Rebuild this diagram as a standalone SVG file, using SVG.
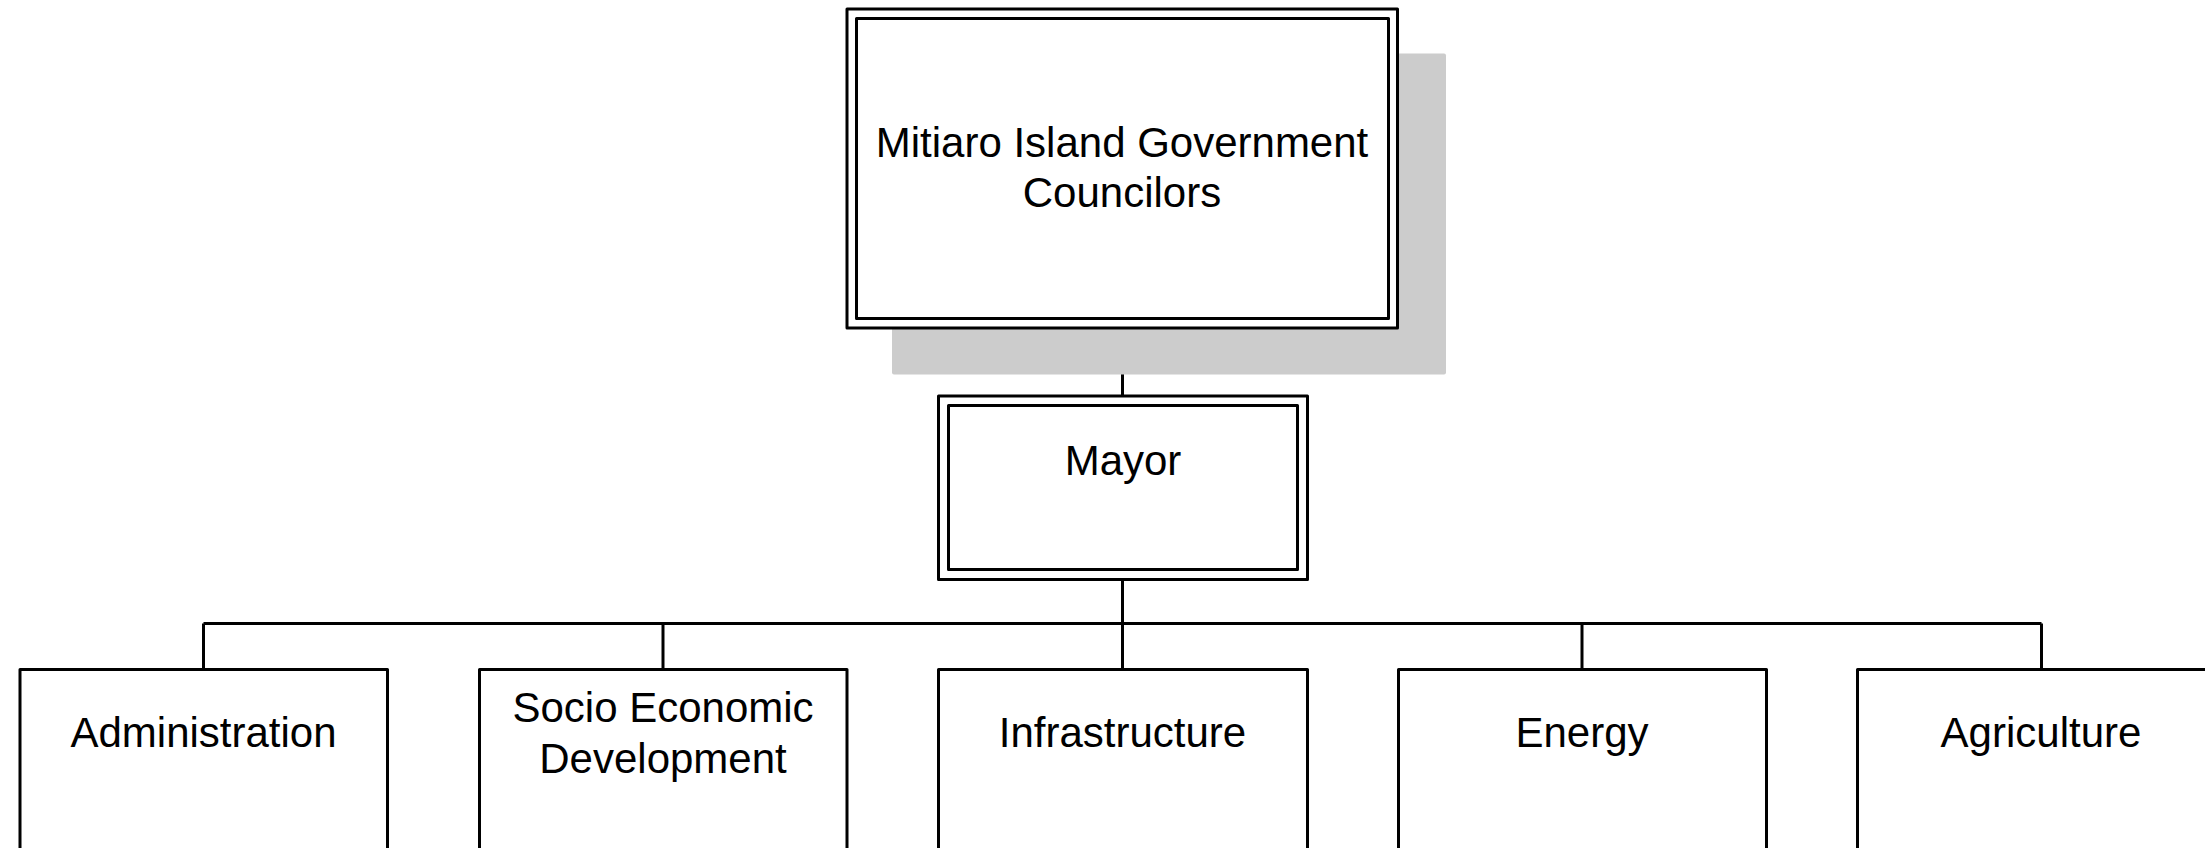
<svg xmlns="http://www.w3.org/2000/svg" width="2205" height="848" viewBox="0 0 2205 848">
  <style>
    .frame { fill: #ffffff; stroke: #000000; stroke-width: 3; stroke-linejoin: round; }
    .inner { fill: none; stroke: #000000; stroke-width: 3; stroke-linejoin: round; }
    .shadow { fill: #cccccc; }
    .link { fill: none; stroke: #000000; stroke-width: 3; }
    .label { font-family: "Liberation Sans", Arial, sans-serif; font-size: 42px; fill: #000000; text-anchor: middle; }
  </style>
  <rect width="2205" height="848" fill="#ffffff"/>

  <!-- connectors -->
  <g id="connectors">
    <line class="link" x1="1122.5" y1="328" x2="1122.5" y2="396"/>
    <line class="link" x1="1122.5" y1="579" x2="1122.5" y2="669"/>
    <line class="link" x1="203.5" y1="623.5" x2="2041.5" y2="623.5"/>
    <line class="link" x1="203.5" y1="623.5" x2="203.5" y2="669"/>
    <line class="link" x1="663" y1="623.5" x2="663" y2="669"/>
    <line class="link" x1="1582" y1="623.5" x2="1582" y2="669"/>
    <line class="link" x1="2041.5" y1="623.5" x2="2041.5" y2="669"/>
  </g>

  <!-- council -->
  <g id="council">
    <rect class="shadow" x="892" y="53.5" width="554" height="321" rx="2"/>
    <rect class="frame" x="847" y="9" width="550.5" height="319"/>
    <rect class="inner" x="856.5" y="18.5" width="532" height="300"/>
    <text class="label" x="1122" y="156.5">Mitiaro Island Government</text>
    <text class="label" x="1122" y="206.5">Councilors</text>
  </g>

  <!-- mayor -->
  <g id="mayor">
    <rect class="frame" x="938.5" y="396" width="369" height="183.5"/>
    <rect class="inner" x="948.5" y="405.5" width="349" height="164"/>
    <text class="label" x="1123" y="475">Mayor</text>
  </g>

  <!-- departments -->
  <g id="administration">
    <rect class="frame" x="20" y="669.5" width="367.5" height="200"/>
    <text class="label" x="203.5" y="746.5">Administration</text>
  </g>
  <g id="socio-economic">
    <rect class="frame" x="479.5" y="669.5" width="367.5" height="200"/>
    <text class="label" x="663" y="721.5">Socio Economic</text>
    <text class="label" x="663" y="773">Development</text>
  </g>
  <g id="infrastructure">
    <rect class="frame" x="938.5" y="669.5" width="369" height="200"/>
    <text class="label" x="1122.5" y="746.5">Infrastructure</text>
  </g>
  <g id="energy">
    <rect class="frame" x="1398.5" y="669.5" width="368" height="200"/>
    <text class="label" x="1582" y="746.5">Energy</text>
  </g>
  <g id="agriculture">
    <rect class="frame" x="1857.5" y="669.5" width="368" height="200"/>
    <text class="label" x="2041" y="746.5">Agriculture</text>
  </g>
</svg>
